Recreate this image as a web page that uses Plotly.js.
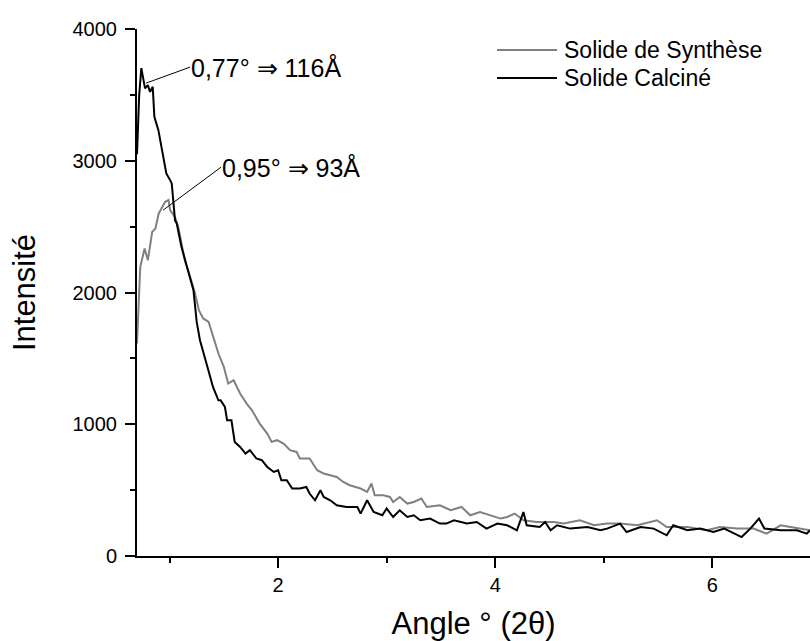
<!DOCTYPE html>
<html>
<head>
<meta charset="utf-8">
<script src="https://cdn.plot.ly/plotly-3.0.1.min.js"></script>
<style>html,body{margin:0;padding:0;background:#fff;}#chart{width:810px;height:641px;}</style>
</head>
<body>
<div id="chart"></div>
<script>
// Solide Calciné (black)
const calcX = [0.70,0.72,0.74,0.774,0.80,0.82,0.845,0.86,0.897,0.94,0.97,1.005,1.02,1.05,1.066,1.11,1.17,1.22,1.25,1.28,1.34,1.40,1.45,1.47,1.51,1.53,1.57,1.60,1.65,1.70,1.74,1.80,1.85,1.90,1.96,2.00,2.03,2.08,2.13,2.20,2.26,2.29,2.34,2.39,2.42,2.48,2.54,2.63,2.73,2.76,2.82,2.88,2.96,3.00,3.06,3.12,3.19,3.25,3.31,3.40,3.49,3.55,3.62,3.74,3.83,3.92,4.02,4.11,4.20,4.26,4.29,4.41,4.46,4.51,4.57,4.69,4.85,4.97,5.03,5.15,5.21,5.34,5.46,5.58,5.64,5.77,5.89,6.01,6.11,6.27,6.35,6.43,6.48,6.63,6.78,6.87,6.90];
const calcY = [3050,3497,3703,3549,3574,3523,3561,3333,3232,3055,2904,2853,2828,2549,2524,2346,2169,2017,1777,1638,1461,1283,1182,1182,1131,1030,1030,866,828,777,803,740,727,676,638,651,575,575,512,512,524,474,423,499,448,423,385,372,372,322,423,334,309,360,296,347,296,309,271,284,246,246,271,246,258,208,246,233,195,334,233,220,258,195,233,208,220,195,208,246,182,220,208,157,233,195,208,182,208,144,208,284,208,195,195,170,195];
// Solide de Synthèse (grey)
const synX = [0.70,0.73,0.77,0.80,0.84,0.87,0.90,0.93,0.96,0.99,1.005,1.05,1.08,1.11,1.14,1.19,1.235,1.27,1.31,1.36,1.40,1.45,1.50,1.54,1.59,1.65,1.71,1.76,1.83,1.90,1.94,1.99,2.05,2.11,2.17,2.20,2.29,2.36,2.42,2.48,2.54,2.60,2.66,2.76,2.82,2.86,2.89,2.97,3.03,3.06,3.12,3.19,3.25,3.32,3.37,3.49,3.59,3.69,3.77,3.86,3.95,4.05,4.11,4.18,4.26,4.38,4.54,4.63,4.78,4.91,5.03,5.15,5.31,5.49,5.58,5.77,5.95,6.07,6.23,6.38,6.50,6.63,6.72,6.81,6.90];
const synY = [1613,2194,2334,2245,2460,2486,2600,2650,2688,2701,2625,2574,2498,2372,2245,2118,1992,1866,1803,1777,1663,1537,1435,1309,1334,1233,1157,1106,1005,929,866,879,853,803,790,740,740,651,626,613,600,562,537,512,486,550,461,461,448,410,448,398,410,436,372,385,347,372,309,334,309,284,296,322,271,258,258,246,271,233,246,246,233,271,220,220,195,220,208,208,170,233,220,208,195];
const xTickVals = [2,4,6];
const yTickVals = [0,1000,2000,3000,4000];
const seriesNames = ['Solide de Synthèse','Solide Calciné'];
const seriesColors = ['#808080','#000000'];
const peakLabels = ['0,77° \u21D2 116Å','0,95° \u21D2 93Å'];
const peakPts = [[0.783,3589],[0.94,2625]];

const FONT = 'Liberation Sans, Arial, Helvetica, sans-serif';
const traces = [
  {x: synX, y: synY, type:'scatter', mode:'lines', name: seriesNames[0], line:{color:seriesColors[0], width:2}},
  {x: calcX, y: calcY, type:'scatter', mode:'lines', name: seriesNames[1], line:{color:seriesColors[1], width:2}}
];

// hand-placed legend (paper coordinates)
const legY = [0.9602, 0.9070];
const legShapes = seriesNames.map((n,i) => ({type:'line', xref:'paper', yref:'paper', x0:0.5349, x1:0.6241, y0:legY[i], y1:legY[i], line:{color:seriesColors[i], width:2}}));
const legTexts = seriesNames.map((n,i) => ({xref:'paper', yref:'paper', x:0.633, y:legY[i], text:n, showarrow:false, xanchor:'left', yanchor:'middle', borderpad:0, font:{size:23, family:FONT, color:'#000'}}));

const layout = {
  width: 810, height: 641,
  margin: {l:137, r:0, t:29, b:85},
  paper_bgcolor:'#fff', plot_bgcolor:'#fff',
  font: {family: FONT, color:'#000', size:20},
  showlegend: false,
  xaxis: {range:[0.7,6.9], showgrid:false, zeroline:false, showline:true, linecolor:'#000', linewidth:2,
    ticks:'outside', ticklen:10, tickwidth:2, tickcolor:'#000', tickvals: xTickVals, ticktext: xTickVals.map(String),
    minor:{tickvals:[1,3,5], ticks:'outside', ticklen:5, tickwidth:2, tickcolor:'#000'},
    tickfont:{size:20}, title:{text:'Angle ° (2θ)', font:{size:31}, standoff:30}},
  xaxis2: {overlaying:'x', side:'top', range:[0.7,6.9], showgrid:false, zeroline:false, showline:true, linecolor:'#000', linewidth:2,
    ticks:'inside', ticklen:5, tickwidth:2, tickcolor:'#000', tickvals:[1,2,3,4,5,6], showticklabels:false},
  yaxis: {range:[0,4000], showgrid:false, zeroline:false, showline:true, linecolor:'#000', linewidth:2,
    ticks:'outside', ticklen:10, tickwidth:2, tickcolor:'#000', tickvals: yTickVals, ticktext: yTickVals.map(String),
    ticklabelstandoff:4,
    minor:{dtick:500, ticks:'outside', ticklen:5, tickwidth:2, tickcolor:'#000'},
    tickfont:{size:20}, title:{text:'Intensité', font:{size:31}, standoff:28}},
  shapes: legShapes,
  annotations: [
    {x: peakPts[0][0], y: peakPts[0][1], xref:'x', yref:'y', text: peakLabels[0], showarrow:true, arrowhead:0, arrowwidth:1, arrowcolor:'#000',
      axref:'pixel', ayref:'pixel', ax:44, ay:-16, xanchor:'left', yanchor:'middle', font:{size:25, family:FONT}, borderpad:0},
    {x: peakPts[1][0], y: peakPts[1][1], xref:'x', yref:'y', text: peakLabels[1], showarrow:true, arrowhead:0, arrowwidth:1, arrowcolor:'#000',
      axref:'pixel', ayref:'pixel', ax:58, ay:-43, xanchor:'left', yanchor:'middle', font:{size:25, family:FONT}, borderpad:0}
  ].concat(legTexts)
};
Plotly.newPlot('chart', traces, layout, {staticPlot:true, displayModeBar:false});
</script>
</body>
</html>
